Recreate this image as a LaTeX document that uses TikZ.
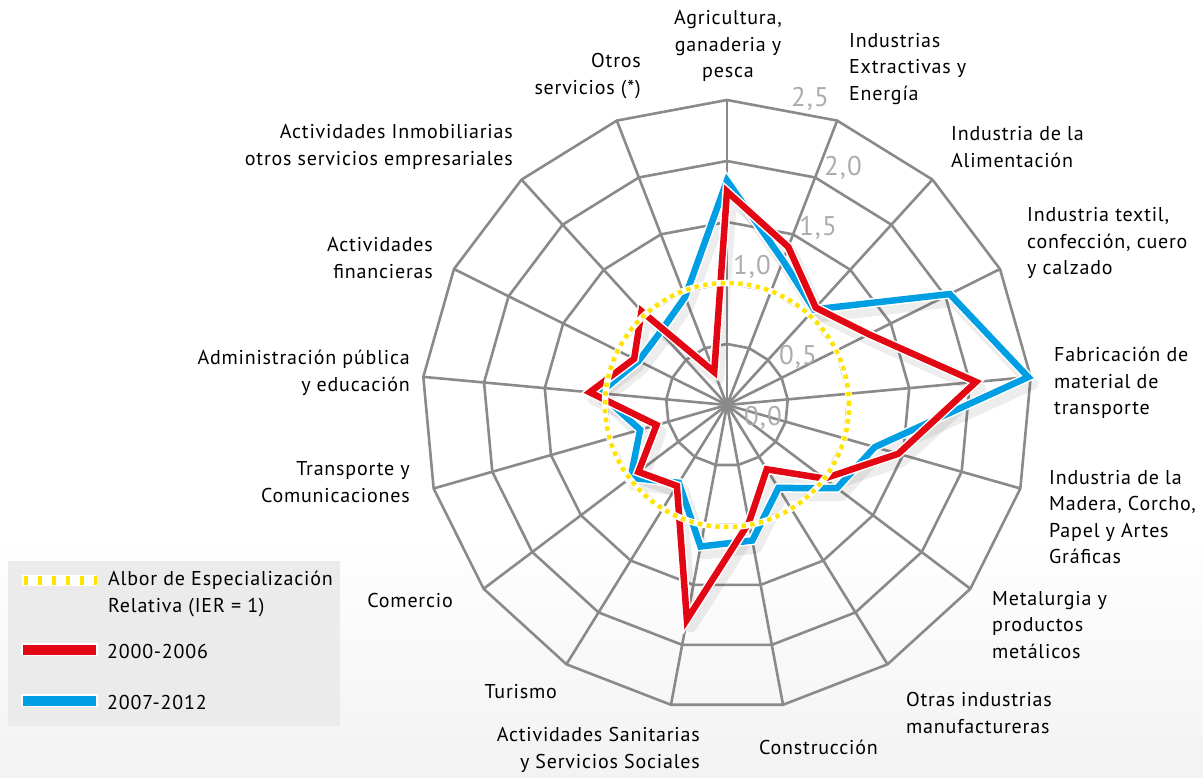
\documentclass[tikz,border=0pt]{standalone}
\usepackage{fontspec}
\setmainfont{PT Sans}[LetterSpace=4]
\usepackage{tikz}
\definecolor{rejilla}{RGB}{138,138,138}
\definecolor{escala}{RGB}{172,172,172}
\definecolor{rojo}{RGB}{227,6,19}
\definecolor{azul}{RGB}{0,159,227}
\definecolor{umbral}{RGB}{255,228,0}
\definecolor{fondoley}{RGB}{235,235,235}

\begin{document}
\begin{tikzpicture}[x=1pt, y=1pt,
    radgrid/.style={rejilla, line width=2.6pt, line join=miter},
    lbl/.style={inner sep=0pt, font=\fontsize{20}{26.5}\selectfont},
    valor/.style={inner sep=0pt, text=escala, font=\fontsize{27}{30}\selectfont},
    sombra/.style={black, opacity=0.07, line width=12pt, line join=round, transform canvas={shift={(4,-7)}}},
    borde/.style={white, line width=9.5pt, line join=miter},
    serie/.style={line width=6.5pt, line join=miter}]
            \def \R {122}
            
            % fondo
            \useasboundingbox (-727,-373) rectangle (476,405);
            \fill[top color=white, bottom color=black!5] (-727,-373) rectangle (476,-130);
            
            % rejilla
            \foreach \i in {0,...,16}
                \draw[radgrid] (0,0) -- ({90-\i*360/17}:{2.5*\R});
            \foreach \v in {0.5,1.0,1.5,2.0,2.5}
                \draw[radgrid] (90:{\v*\R}) \foreach \i in {1,...,16}{ -- ({90-\i*360/17}:{\v*\R})} -- cycle;
            
            \node[valor] (v25) at (83,306) {2,5};
            \node[valor] (v20) at (116,237) {2,0};
            \node[valor] (v15) at (91,177) {1,5};
            \node[valor] (v10) at (25,138) {1,0};
            \node[valor] (v05) at (71,48) {0,5};
            \node[valor] (v00) at (36,-13) {0,0};
            
            % series
            \def \datosA {1.75,1.39,1.08,1.30,2.05,1.46,1.00,0.62,0.98,1.79,0.78,0.91,0.60,1.13,0.85,1.04,0.29}
            \def \datosB {1.84,1.27,1.06,2.04,2.48,1.26,1.13,0.80,1.13,1.18,0.75,0.99,0.74,1.05,0.81,0.81,0.95}
            \foreach \v [count=\i from 0] in \datosA
                \coordinate (a\i) at ({90-\i*360/17}:{\v*\R});
            \foreach \v [count=\i from 0] in \datosB
                \coordinate (b\i) at ({90-\i*360/17}:{\v*\R});
            
            \draw[sombra] (b0) \foreach \i in {1,...,16}{ -- (b\i)} -- cycle;
            \draw[sombra] (a0) \foreach \i in {1,...,16}{ -- (a\i)} -- cycle;
            \draw[borde] (b0) \foreach \i in {1,...,16}{ -- (b\i)} -- cycle;
            \draw[serie, azul] (b0) \foreach \i in {1,...,16}{ -- (b\i)} -- cycle;
            \draw[borde] (a0) \foreach \i in {1,...,16}{ -- (a\i)} -- cycle;
            \draw[serie, rojo] (a0) \foreach \i in {1,...,16}{ -- (a\i)} -- cycle;
            
            % umbral IER = 1
            \draw[white, line width=6.5pt] (0,0) circle (\R);
            \draw[umbral, line width=4.5pt, dash pattern=on 4.4pt off 4.4pt] (0,0) circle (\R);
            
            % sectores
            \node[lbl, align=center] (agri) at (1,359) {Agricultura,\\ganaderia y\\pesca};
            \node[lbl, align=left, anchor=west] (extr) at (122,336) {Industrias\\Extractivas y\\Energía};
            \node[lbl, align=left, anchor=west] (alim) at (224,258) {Industria de la\\Alimentación};
            \node[lbl, align=left, anchor=west] (text) at (300,162) {Industria textil,\\confección, cuero\\y calzado};
            \node[lbl, align=left, anchor=west] (fabr) at (327,22) {Fabricación de\\material de\\transporte};
            \node[lbl, align=left, anchor=west] (made) at (322,-112) {Industria de la\\Madera, Corcho,\\Papel y Artes\\Gráficas};
            \node[lbl, align=left, anchor=west] (meta) at (265,-220) {Metalurgia y\\productos\\metálicos};
            \node[lbl, align=left, anchor=west] (otin) at (179,-308) {Otras industrias\\manufactureras};
            \node[lbl, anchor=west] (cons) at (32,-342) {Construcción};
            \node[lbl, align=right, anchor=east] (sani) at (-27,-345) {Actividades Sanitarias\\y Servicios Sociales};
            \node[lbl, anchor=east] (turi) at (-170,-287) {Turismo};
            \node[lbl, anchor=east] (come) at (-274,-196) {Comercio};
            \node[lbl, align=right, anchor=east] (tran) at (-317,-77) {Transporte y\\Comunicaciones};
            \node[lbl, align=right, anchor=east] (admi) at (-317,32) {Administración pública\\y educación};
            \node[lbl, align=right, anchor=east] (fina) at (-294,147) {Actividades\\financieras};
            \node[lbl, align=right, anchor=east] (inmo) at (-214,258) {Actividades Inmobiliarias\\otros servicios empresariales};
            \node[lbl, align=right, anchor=east] (otse) at (-86,329) {Otros\\servicios (*)};
            
            % leyenda
            \fill[fondoley] (-719,-156) rectangle (-387,-321);
            \draw[white, line width=11pt] (-705,-176) -- (-630,-176);
            \draw[umbral, line width=9pt, dash pattern=on 4pt off 10pt] (-703,-176) -- (-630,-176);
            \node[lbl, align=left, anchor=west] (ley1) at (-619,-189) {Albor de Especialización\\Relativa (IER = 1)};
            \draw[white, line width=13pt] (-706,-245) -- (-629,-245);
            \draw[rojo, line width=10pt] (-704,-245) -- (-631,-245);
            \node[lbl, anchor=west] (ley2) at (-620,-247) {2000-2006};
            \draw[white, line width=13pt] (-706,-296) -- (-629,-296);
            \draw[azul, line width=10pt] (-704,-296) -- (-631,-296);
            \node[lbl, anchor=west] (ley3) at (-620,-298) {2007-2012};
\end{tikzpicture}
\end{document}
